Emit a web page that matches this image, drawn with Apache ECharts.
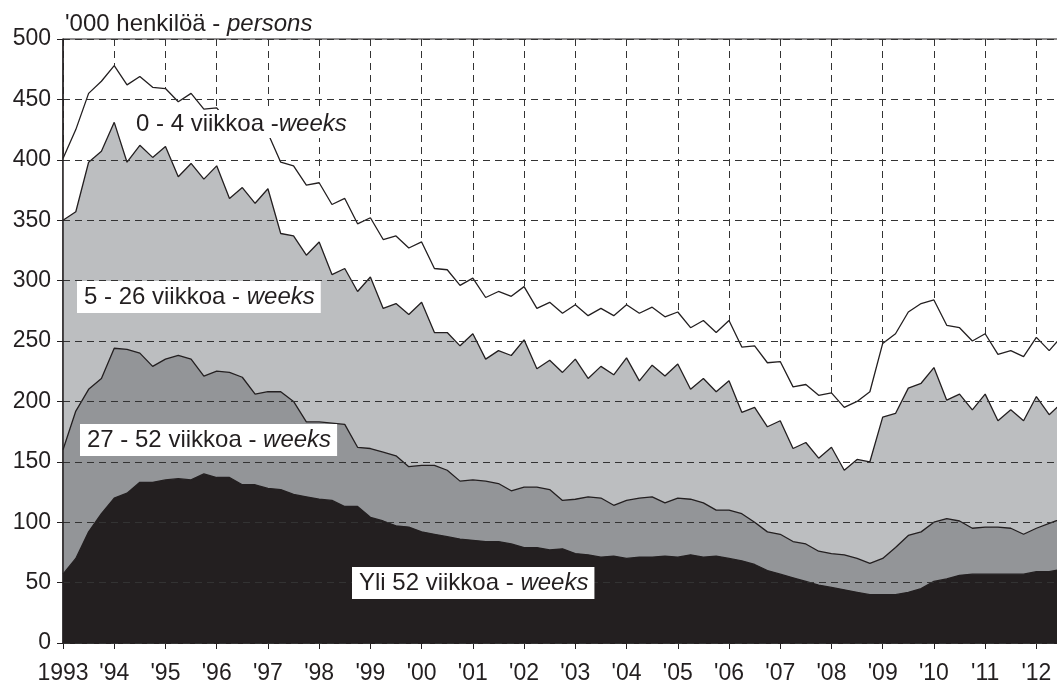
<!DOCTYPE html>
<html>
<head>
<meta charset="utf-8">
<script src="https://cdn.jsdelivr.net/npm/echarts@6/dist/echarts.min.js"></script>
<style>
  html, body { margin: 0; padding: 0; background: #fff; overflow: hidden; }
  #chart { width: 1057px; height: 684px; }
</style>
</head>
<body>
<div id="chart"></div>
<script>
// neljännesvuosittain 1993 Q1 - 2012 Q3, tuhatta henkilöä (kertymät alhaalta ylös)
var alkuvuosi = 1993
var vuodet = ['1993', "'94", "'95", "'96", "'97", "'98", "'99", "'00", "'01", "'02",
  "'03", "'04", "'05", "'06", "'07", "'08", "'09", "'10", "'11", "'12"]

// kaikki työttömät (0 - 4 viikkoa -alueen yläreuna)
var yhteensa = [401, 425, 455, 465, 478, 462, 469, 460, 459, 448,
  455, 442, 443, 430, 436, 426, 422, 398, 395, 379,
  381, 363, 368, 347, 352, 334, 337, 327, 332, 310,
  309, 296, 302, 286, 291, 287, 295, 277, 282, 273,
  280, 271, 277, 271, 280, 273, 278, 270, 274, 261,
  267, 257, 267, 245, 246, 232, 233, 212, 214, 205,
  207, 195, 200, 208, 248, 256, 274, 281, 284, 263,
  261, 250, 256, 239, 242, 237, 253, 242, 254]

// yli 4 viikkoa (5 - 26 viikkoa -alueen yläreuna)
var yli4 = [350, 357, 398, 407, 431, 398, 412, 402, 411, 386,
  397, 384, 395, 368, 377, 364, 376, 339, 337, 321,
  332, 305, 310, 291, 303, 277, 281, 272, 282, 257,
  257, 246, 256, 235, 242, 238, 251, 227, 234, 224,
  235, 219, 229, 222, 236, 217, 230, 221, 231, 210,
  219, 208, 217, 191, 195, 179, 184, 161, 166, 153,
  162, 143, 152, 150, 187, 190, 211, 215, 228, 201,
  206, 193, 206, 184, 193, 184, 204, 189, 199]

// yli 26 viikkoa (27 - 52 viikkoa -alueen yläreuna)
var yli26 = [160, 192, 210, 219, 244, 243, 240, 229, 235, 238,
  235, 221, 225, 224, 220, 206, 208, 208, 200, 183,
  183, 182, 181, 162, 161, 158, 155, 146, 147, 147,
  143, 134, 135, 134, 132, 126, 129, 129, 127, 118,
  119, 121, 120, 114, 118, 120, 121, 116, 120, 119,
  116, 110, 110, 107, 100, 92, 90, 84, 82, 76,
  74, 73, 70, 66, 70, 79, 89, 92, 100, 103,
  101, 95, 96, 96, 95, 90, 95, 99, 103]

// yli 52 viikkoa
var yli52 = [57, 70, 92, 107, 120, 124, 133, 133, 135, 136,
  135, 140, 137, 137, 131, 131, 128, 127, 123, 121,
  119, 118, 113, 113, 104, 101, 97, 96, 92, 90,
  88, 86, 85, 84, 84, 82, 79, 79, 77, 78,
  74, 73, 71, 72, 70, 71, 71, 72, 71, 73,
  71, 72, 70, 68, 65, 60, 57, 54, 51, 48,
  46, 44, 42, 40, 40, 40, 42, 45, 51, 53,
  56, 57, 57, 57, 57, 57, 59, 59, 61]

var fontti = "'Liberation Sans', Arial, Helvetica, sans-serif"
var tumma = '#231f20'

function kvartaalit(arvot) {
  return arvot.map(function(v, i) { return [alkuvuosi + i / 4, v] })
}

function alue(nimi, arvot, tayte, viiva) {
  return {
    name: nimi,
    type: 'line',
    data: kvartaalit(arvot),
    symbol: 'none',
    lineStyle: { color: viiva, width: 1.3 },
    itemStyle: { color: tayte },
    areaStyle: { color: tayte, opacity: 1 },
    animation: false
  }
}

function selite(x, y, alku, kursiivi, pad) {
  return {
    type: 'text',
    x: x,
    y: y,
    z: 100,
    style: {
      text: '{a|' + alku + '}{b|' + kursiivi + '}',
      rich: {
        a: { fontSize: 24, fontFamily: fontti, fill: tumma },
        b: { fontSize: 24, fontFamily: fontti, fontStyle: 'italic', fill: tumma }
      },
      fontSize: 24,
      fontFamily: fontti,
      fill: tumma,
      lineHeight: 24,
      backgroundColor: '#fff',
      padding: pad || [4, 6, 4, 7],
      align: 'left',
      verticalAlign: 'top'
    }
  }
}

var chart = echarts.init(document.getElementById('chart'))
chart.setOption({
  backgroundColor: '#fff',
  animation: false,
  grid: {
    left: 63,
    width: 999,
    top: 39,
    bottom: 41,
    outerBoundsMode: 'none',
    show: true,
    borderColor: tumma,
    borderWidth: 1
  },
  xAxis: {
    type: 'value',
    min: 1993,
    max: 2012.5,
    interval: 1,
    axisLine: { show: true, lineStyle: { color: tumma } },
    axisTick: { show: true, length: 6, lineStyle: { color: tumma } },
    axisLabel: {
      fontSize: 23,
      fontFamily: fontti,
      color: tumma,
      margin: 19,
      formatter: function(v) {
        var k = v - alkuvuosi
        return Number.isInteger(k) && vuodet[k] ? vuodet[k] : ''
      }
    },
    splitLine: { show: true, lineStyle: { color: '#333', width: 1, type: [7, 5] } }
  },
  yAxis: {
    type: 'value',
    min: 0,
    max: 500,
    interval: 50,
    z: 5,
    axisLine: { show: true, lineStyle: { color: tumma, width: 1.5 } },
    axisTick: { show: true, length: 6, lineStyle: { color: tumma } },
    axisLabel: { fontSize: 23, fontFamily: fontti, color: tumma, margin: 12 },
    splitLine: { show: true, lineStyle: { color: '#333', width: 1, type: [7, 5] } }
  },
  series: [
    alue('0 - 4 viikkoa', yhteensa, '#ffffff', tumma),
    alue('5 - 26 viikkoa', yli4, '#bcbec0', tumma),
    alue('27 - 52 viikkoa', yli26, '#939598', tumma),
    alue('Yli 52 viikkoa', yli52, tumma, tumma)
  ],
  graphic: [
    {
      type: 'text',
      x: 65,
      y: 24,
      z: 100,
      style: {
        text: "{a|'000 henkilöä - }{b|persons}",
        rich: {
          a: { fontSize: 24, fontFamily: fontti, fill: tumma },
          b: { fontSize: 24, fontFamily: fontti, fontStyle: 'italic', fill: tumma }
        },
        fontSize: 24,
        fontFamily: fontti,
        fill: tumma,
        align: 'left',
        verticalAlign: 'middle'
      }
    },
    selite(130, 110, '0 - 4 viikkoa -', 'weeks', [2, 6, 2, 6]),
    selite(77, 281, '5 - 26 viikkoa - ', 'weeks'),
    selite(80, 424, '27 - 52 viikkoa - ', 'weeks'),
    selite(352, 567, 'Yli 52 viikkoa - ', 'weeks')
  ]
})
</script>
</body>
</html>
